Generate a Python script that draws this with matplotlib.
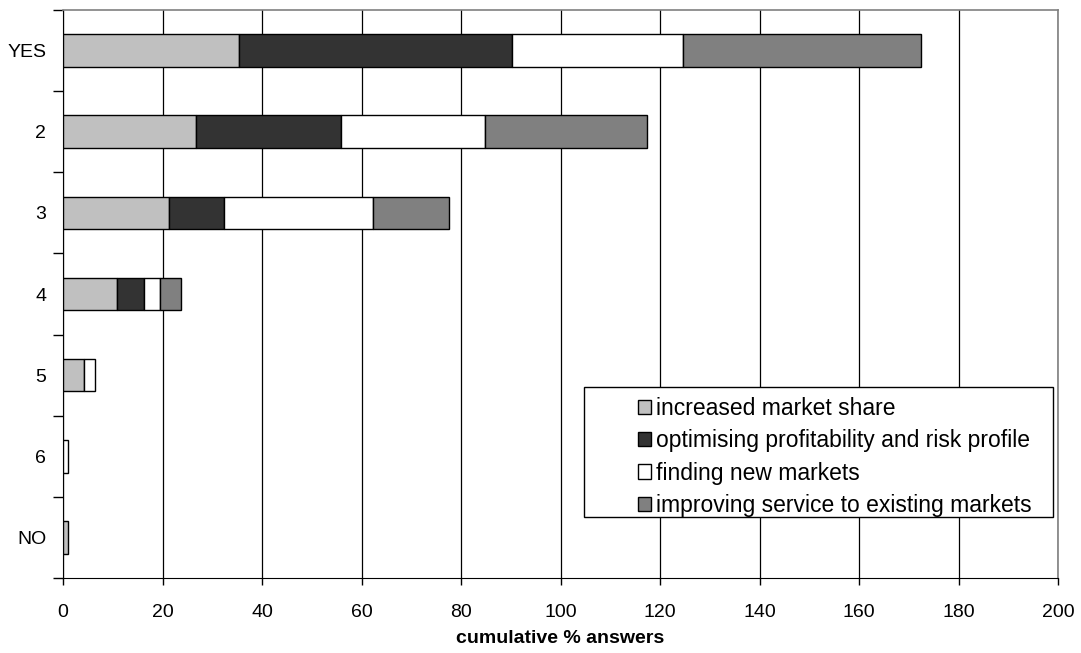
import matplotlib
matplotlib.use("Agg")
import matplotlib.pyplot as plt
import numpy as np
from matplotlib.patches import Patch, Rectangle

plt.rcParams["font.family"] = ["Liberation Sans", "DejaVu Sans"]

categories = ["YES", "2", "3", "4", "5", "6", "NO"]
series_names = [
    "increased market share",
    "optimising profitability and risk profile",
    "finding new markets",
    "improving service to existing markets",
]
market_share = [35.4, 26.8, 21.4, 10.8, 4.3, 0.0, 1.1]
profitability = [54.8, 29.1, 10.9, 5.4, 0.0, 0.0, 0.0]
new_markets = [34.4, 29.0, 30.1, 3.2, 2.2, 1.1, 0.0]
existing_service = [47.9, 32.5, 15.1, 4.3, 0.0, 0.0, 0.0]
x_ticks = list(range(0, 201, 20))

colors = ["#c0c0c0", "#333333", "#ffffff", "#808080"]

fig = plt.figure(figsize=(10.81, 6.53), dpi=100, facecolor="white")
ax = fig.add_axes([63 / 1081, 75 / 653, 995 / 1081, 568 / 653])

y = np.arange(len(categories))
left = np.zeros(len(categories))
for vals, col in zip([market_share, profitability, new_markets, existing_service], colors):
    vals = np.asarray(vals)
    mask = vals > 0
    ax.barh(y[mask], vals[mask], left=left[mask], height=0.4,
            color=col, edgecolor="black", linewidth=1.0, zorder=3)
    left += vals

ax.set_xlim(0, 200)
ax.set_ylim(len(categories) - 0.5, -0.5)
ax.set_xticks(x_ticks)
ax.set_xticklabels([str(t) for t in x_ticks], fontsize=14)
ax.grid(axis="x", color="black", lw=0.9, zorder=0)
ax.set_axisbelow(True)

# labels at category centres, tick marks on the boundaries
ax.set_yticks(np.arange(-0.5, len(categories), 1.0))
ax.set_yticklabels([])
ax.set_yticks(y, minor=True)
ax.set_yticklabels(categories, minor=True, fontsize=14)
ax.tick_params(axis="y", which="major", direction="out", length=7, width=1)
ax.tick_params(axis="y", which="minor", length=0, pad=12)
ax.tick_params(axis="x", direction="out", length=5, width=1, pad=14)

for side in ("left", "bottom"):
    ax.spines[side].set_color("black")
for side in ("top", "right"):
    ax.spines[side].set_color("#808080")
    ax.spines[side].set_linewidth(1.2)

ax.set_xlabel("cumulative % answers", fontsize=14, fontweight="bold", labelpad=6)

# legend frame drawn separately so entries sit indented inside it
ax.add_patch(Rectangle((0.5236, 0.107), 0.4714, 0.229, transform=ax.transAxes,
                       facecolor="white", edgecolor="black", lw=1.0, zorder=5))
handles = [Patch(facecolor=c, edgecolor="black", lw=1.0) for c in colors]
leg = ax.legend(handles, series_names, loc="upper left",
                bbox_to_anchor=(0.578, 0.319), frameon=False, fontsize=16.5,
                handlelength=0.58, handleheight=0.58, handletextpad=0.22,
                labelspacing=0.41, borderpad=0, borderaxespad=0)
leg.set_zorder(6)

fig.savefig("out.png", dpi=100, facecolor="white")
